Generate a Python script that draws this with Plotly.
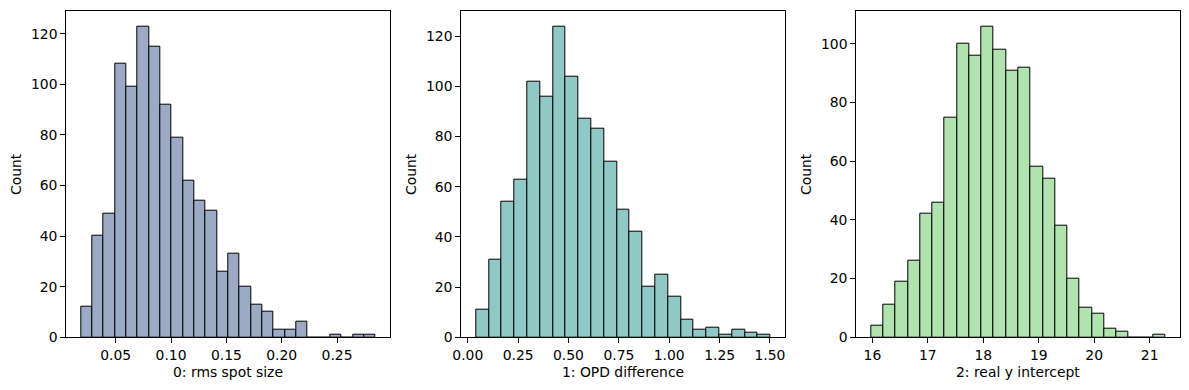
import numpy as np
import plotly.graph_objects as go

# ---- data ----
titles = ["0: rms spot size", "1: OPD difference", "2: real y intercept"]

counts_0 = [12, 40, 49, 108, 99, 123, 115, 92, 79, 62, 54, 50, 26, 33, 20, 13, 10, 3, 3, 6, 0, 0, 1, 0, 1, 1]
range_0 = [0.0187, 0.2848]
ticks_0 = [0.05, 0.10, 0.15, 0.20, 0.25]
ticklabels_0 = ["0.05", "0.10", "0.15", "0.20", "0.25"]

counts_1 = [11, 31, 54, 63, 102, 96, 124, 104, 87, 83, 70, 51, 42, 20, 25, 16, 7, 3, 4, 1, 3, 2, 1]
range_1 = [0.041, 1.503]
ticks_1 = [0.0, 0.25, 0.5, 0.75, 1.0, 1.25, 1.5]
ticklabels_1 = ["0.00", "0.25", "0.50", "0.75", "1.00", "1.25", "1.50"]

counts_2 = [4, 11, 19, 26, 42, 46, 75, 100, 96, 106, 98, 91, 92, 58, 54, 38, 20, 10, 8, 3, 2, 0, 0, 1]
range_2 = [15.975, 21.287]
ticks_2 = [16, 17, 18, 19, 20, 21]
ticklabels_2 = ["16", "17", "18", "19", "20", "21"]

yticks_a = [0, 20, 40, 60, 80, 100, 120]
yticks_b = [0, 20, 40, 60, 80, 100]

colors = ["#9daac6", "#8fc8c4", "#b0e3ae"]

panels = [
    (counts_0, range_0, ticks_0, ticklabels_0, yticks_a),
    (counts_1, range_1, ticks_1, ticklabels_1, yticks_a),
    (counts_2, range_2, ticks_2, ticklabels_2, yticks_b),
]

W, H = 1189, 390
x_doms = [(66.3, 390.3), (461.3, 785.3), (856.3, 1180.3)]
y_dom = (1 - 337.3 / H, 1 - 10.7 / H)
FONT = "DejaVu Sans"
FS = 13.9

fig = go.Figure()
annotations = []
for i, (counts, rng, ticks, tlabels, yt) in enumerate(panels):
    n = len(counts)
    edges = np.linspace(rng[0], rng[1], n + 1)
    centers = (edges[:-1] + edges[1:]) / 2
    width = edges[1] - edges[0]
    xa = "x" if i == 0 else f"x{i+1}"
    ya = "y" if i == 0 else f"y{i+1}"
    fig.add_trace(go.Bar(
        x=centers, y=counts, width=width,
        marker=dict(color=colors[i], line=dict(color="black", width=1)),
        xaxis=xa, yaxis=ya, showlegend=False, hoverinfo="x+y",
    ))
    span = rng[1] - rng[0]
    xr = [rng[0] - 0.05 * span, rng[1] + 0.05 * span]
    yr = [0, max(counts) * 1.05]
    dom = [x_doms[i][0] / W, x_doms[i][1] / W]
    axkey = "xaxis" if i == 0 else f"xaxis{i+1}"
    aykey = "yaxis" if i == 0 else f"yaxis{i+1}"
    fig.layout[axkey] = dict(
        domain=dom, range=xr, anchor=ya, automargin=False,
        tickmode="array", tickvals=ticks, ticktext=tlabels,
        ticks="outside", ticklen=5, tickwidth=1.1, tickcolor="black",
        showline=True, linecolor="black", linewidth=1.1, mirror=True,
        showgrid=False, zeroline=False,
        tickfont=dict(family=FONT, size=FS, color="black"),
    )
    fig.layout[aykey] = dict(
        domain=list(y_dom), range=yr, anchor=xa, automargin=False,
        tickmode="array", tickvals=yt,
        ticks="outside", ticklen=5, tickwidth=1.1, tickcolor="black",
        showline=True, linecolor="black", linewidth=1.1, mirror=True,
        showgrid=False, zeroline=False,
        tickfont=dict(family=FONT, size=FS, color="black"),
    )
    annotations.append(dict(
        text=titles[i], xref="paper", yref="paper",
        x=(dom[0] + dom[1]) / 2, y=1 - 371.7 / H,
        xanchor="center", yanchor="middle", showarrow=False,
        font=dict(family=FONT, size=FS, color="black"),
    ))
    annotations.append(dict(
        text="Count", xref="paper", yref="paper",
        x=(x_doms[i][0] - 50.3) / W, y=(y_dom[0] + y_dom[1]) / 2,
        xanchor="center", yanchor="middle", textangle=-90, showarrow=False,
        font=dict(family=FONT, size=FS, color="black"),
    ))

fig.update_layout(
    template="none",
    width=W, height=H,
    margin=dict(l=0, r=0, t=0, b=0, pad=0),
    paper_bgcolor="white", plot_bgcolor="white",
    annotations=annotations,
    bargap=0,
    showlegend=False,
)

fig.write_html(
    "out.html",
    config={"displayModeBar": False},
    post_script="document.body.style.margin='0';document.body.style.padding='0';document.body.style.overflow='hidden';",
)
